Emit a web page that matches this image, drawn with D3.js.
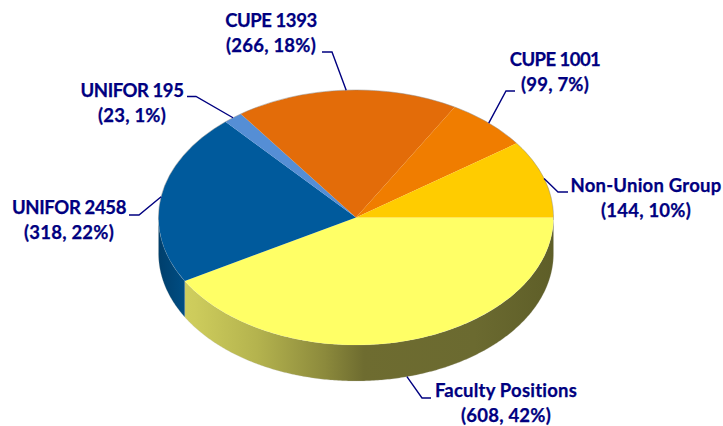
<!DOCTYPE html>
<html>
<head>
<meta charset="utf-8">
<script src="https://d3js.org/d3.v7.min.js"></script>
<style>
  html, body { margin: 0; padding: 0; background: #fff; }
  svg { display: block; }
  .label { font-family: Lato, "Open Sans", sans-serif; font-weight: 700; font-size: 18.5px; letter-spacing: 0.22px; fill: #000080; stroke: #000080; stroke-width: 0.25px; text-anchor: middle; }
</style>
</head>
<body>
<div id="chart"></div>
<script>
// slices in drawing order, clockwise from 3 o'clock
var names = ["Faculty Positions", "UNIFOR 2458", "UNIFOR 195", "CUPE 1393", "CUPE 1001", "Non-Union Group"];
var counts = [608, 318, 23, 266, 99, 144];
var percents = [42, 22, 1, 18, 7, 10];
var topColors = ["#ffff66", "#005a9c", "#558ed5", "#e36c09", "#f07d00", "#ffcc00"];

var svgWidth = 723;
var svgHeight = 426;
var cx = 356, cy = 217.5;
var rx = 197.5, ry = 127.5;
var depth = 36;

// label placement: centre x, first baseline, elbow of the leader line
// spacing tightens the all-caps names, Lato caps run wider than the original font
var labelPos = [
  { x: 506, y: 397, elbow: [422, 398], end: [431, 398], spacing: 0.22 },
  { x: 69, y: 214, elbow: [139, 215], end: [129, 215], spacing: -0.35 },
  { x: 132, y: 97, elbow: [196, 96.5], end: [187, 96.5], spacing: -0.45 },
  { x: 271, y: 27, elbow: [332, 52], end: [322, 52], spacing: -0.45 },
  { x: 555, y: 66, elbow: [506, 91], end: [515, 91], spacing: -0.55 },
  { x: 646, y: 192, elbow: [558, 192], end: [568, 192], spacing: 0.22 }
];

var svg = d3.select("#chart")
  .append("svg")
  .attr("width", svgWidth)
  .attr("height", svgHeight);

var defs = svg.append("defs");

// yellow wall goes from pale on the left to dark olive on the right
var wallYellow = defs.append("linearGradient")
  .attr("id", "wallYellow")
  .attr("gradientUnits", "userSpaceOnUse")
  .attr("x1", cx - rx).attr("x2", cx + rx).attr("y1", 0).attr("y2", 0);
[[0, "#d2d160"], [0.09, "#cdcc5c"], [0.25, "#b4b34e"], [0.42, "#8c8a3c"], [0.52, "#6e6c30"], [0.8, "#6b6a30"], [1, "#5e5e28"]]
  .forEach(function(s) {
    wallYellow.append("stop").attr("offset", s[0]).attr("stop-color", s[1]);
  });

var wallBlue = defs.append("linearGradient")
  .attr("id", "wallBlue")
  .attr("gradientUnits", "userSpaceOnUse")
  .attr("x1", cx - rx).attr("x2", cx - rx + 30).attr("y1", 0).attr("y2", 0);
wallBlue.append("stop").attr("offset", 0).attr("stop-color", "#003f6c");
wallBlue.append("stop").attr("offset", 1).attr("stop-color", "#004f86");

var pie = d3.pie()
  .sort(null)
  .startAngle(Math.PI / 2)
  .endAngle(Math.PI / 2 + 2 * Math.PI);
var slices = pie(counts);

function edgeX(a) { return cx + rx * Math.sin(a); }
function edgeY(a) { return cy - ry * Math.cos(a); }

// walls, only the front half of the rim can be seen
var wallArea = d3.area()
  .x(edgeX)
  .y0(edgeY)
  .y1(function(a) { return edgeY(a) + depth; });

var wallFills = { 0: "url(#wallYellow)", 1: "url(#wallBlue)" };
var frontLimit = 3 * Math.PI / 2;

svg.append("g").selectAll("path")
  .data(slices.filter(function(d) { return d.startAngle < frontLimit; }))
  .enter()
  .append("path")
  .attr("d", function(d) {
    var end = Math.min(d.endAngle, frontLimit);
    var steps = d3.range(d.startAngle, end, 0.01).concat([end]);
    return wallArea(steps);
  })
  .attr("fill", function(d) { return wallFills[d.index]; })
  .attr("stroke", "#b8b8b0")
  .attr("stroke-opacity", 0.35)
  .attr("stroke-width", 0.7);

// top face: circular arcs squashed into an ellipse
var arc = d3.arc().innerRadius(0).outerRadius(rx);
var topFace = svg.append("g")
  .attr("transform", "translate(" + cx + "," + cy + ") scale(1," + (ry / rx) + ")");

topFace.selectAll("path")
  .data(slices)
  .enter()
  .append("path")
  .attr("d", arc)
  .attr("fill", function(d) { return topColors[d.index]; });

// soft grey rim around the back of the top face
svg.append("path")
  .attr("d", d3.line().x(edgeX).y(edgeY)(d3.range(frontLimit - 0.02, frontLimit + Math.PI + 0.02, 0.01)))
  .attr("fill", "none")
  .attr("stroke", "#8a8a8a")
  .attr("stroke-opacity", 0.55)
  .attr("stroke-width", 0.9);

// leader lines start from the middle of each slice's rim
var leader = d3.line();
svg.append("g").selectAll("path")
  .data(slices)
  .enter()
  .append("path")
  .attr("d", function(d) {
    var mid = (d.startAngle + d.endAngle) / 2;
    var wall = d.index === 0 ? depth : 0;
    var p = labelPos[d.index];
    return leader([[edgeX(mid), edgeY(mid) + wall], p.elbow, p.end]);
  })
  .attr("fill", "none")
  .attr("stroke", "#000080")
  .attr("stroke-width", 1.4);

// two line labels
var labels = svg.append("g").selectAll("text")
  .data(names)
  .enter()
  .append("text")
  .attr("class", "label")
  .attr("y", function(d, i) { return labelPos[i].y; });

labels.append("tspan")
  .attr("x", function(d, i) { return labelPos[i].x; })
  .style("letter-spacing", function(d, i) { return labelPos[i].spacing + "px"; })
  .text(function(d) { return d; });

labels.append("tspan")
  .attr("x", function(d, i) { return labelPos[i].x; })
  .attr("dy", 25)
  .text(function(d, i) { return "(" + counts[i] + ", " + percents[i] + "%)"; });
</script>
</body>
</html>
